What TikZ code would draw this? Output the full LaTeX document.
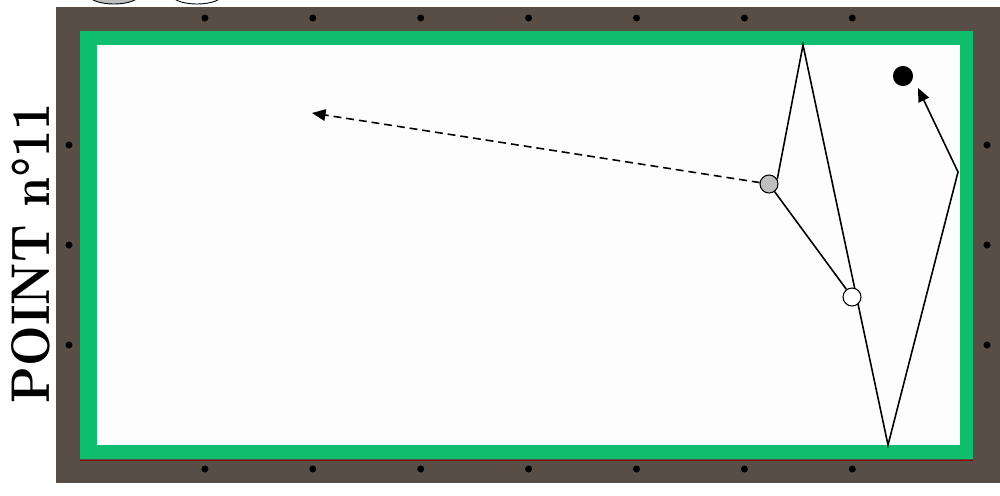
\documentclass[tikz,border=0pt]{standalone}
\usepackage{tikz}
\usetikzlibrary{arrows.meta, backgrounds}

\definecolor{holz}{RGB}{88,78,70}
\definecolor{bande}{RGB}{14,190,110}
\definecolor{tuch}{RGB}{253,253,253}

\tikzset{
  kugel/.style={circle, draw=black, line width=0.6pt, minimum size=0.36cm, inner sep=0pt},
  lauf/.style={line width=0.9pt},
  spitze/.style={-{Triangle[length=2.7mm, width=2.3mm]}},
}

\begin{document}
\begin{tikzpicture}[x=0.02cm, y=-0.02cm]
        \useasboundingbox (0,0) rectangle (1000,495);

        \begin{scope}[on background layer]
        % Kugeln oben links (abgeschnitten)
        \draw[fill=gray!50, line width=0.5pt] (114,-6) ellipse (26 and 10);
        \draw[fill=white, line width=0.5pt] (197,-6) ellipse (26 and 10);

        % Holzrahmen
        \fill[holz] (56,7) rectangle (1000,483);

        % Bande und Spielfläche
        \fill[bande] (80,31) rectangle (973,459);
        \draw[red!55!black, line width=0.5pt] (80,460) -- (973,460);
        \fill[tuch] (97,45) rectangle (960,445);
        \end{scope}

        % Diamanten
        \foreach \i in {1,...,7} {
            \fill (97+107.9*\i,18) circle (3.5);
            \fill (97+107.9*\i,469) circle (3.5);
        }
        \foreach \j in {1,2,3} {
            \fill (69,45+100*\j) circle (3.5);
            \fill (987,45+100*\j) circle (3.5);
        }

        % Titel
        \node[rotate=90] (titel) at (31,253) {\resizebox{6cm}{0.76cm}{\bfseries POINT n°11}};

        % Kugeln
        \node[kugel, fill=gray!50] (rot) at (769,184) {};
        \node[kugel, fill=white] (weiss) at (852,297) {};
        \node[kugel, fill=black, minimum size=0.38cm] (schwarz) at (903,76) {};

        % Bandenpunkte
        \coordinate (oben) at (803,45);
        \coordinate (unten) at (888,445);
        \coordinate (rechts) at (958,172);
        \coordinate (ende) at (918,88);
        \coordinate (ziel) at (312,113);

        % Laufwege
        \begin{scope}[on background layer]
        \draw[lauf] (weiss) -- (rot);
        \draw[lauf, spitze] (rot.30) -- (oben) -- (unten) -- (rechts) -- (ende);
        \draw[lauf, spitze, dash pattern=on 4.5pt off 2.8pt] (rot) -- (ziel);
        \end{scope}
\end{tikzpicture}
\end{document}
